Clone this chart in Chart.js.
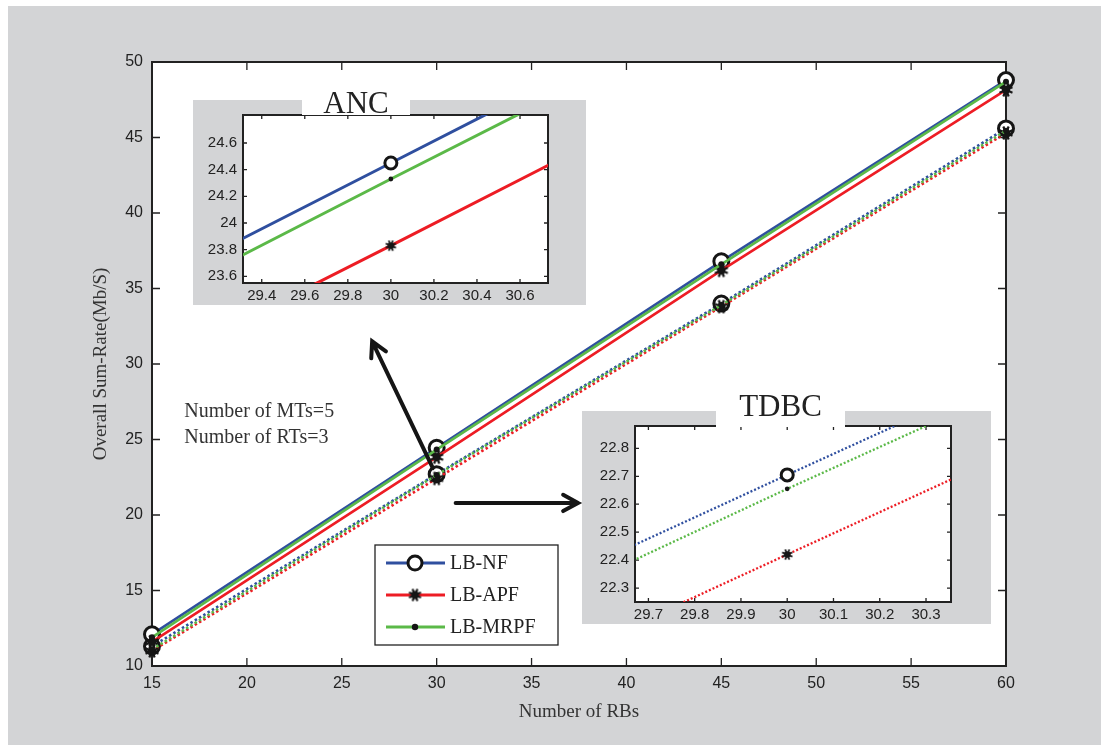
<!DOCTYPE html>
<html>
<head>
<meta charset="utf-8">
<script src="https://cdn.jsdelivr.net/npm/chart.js@4.4.1/dist/chart.umd.min.js"></script>
<style>
  html, body { margin: 0; padding: 0; background: #fff; }
  #wrap { position: relative; width: 1101px; height: 745px; overflow: hidden; }
  #main { position: absolute; left: 0; top: 0; }
  .inset { position: absolute; background: #d3d4d6; }
  .inset canvas { position: absolute; left: 0; top: 0; }
  .gap { position: absolute; background: #fff; }
  .ttl { position: absolute; font-family: "Liberation Serif", "DejaVu Serif", serif; font-size: 31px; line-height: 30px; color: #222; text-align: center; }
</style>
</head>
<body>
<div id="wrap">
  <canvas id="main" width="1101" height="745"></canvas>

  <div class="inset" style="left:193px; top:100px; width:393px; height:205px;">
    <canvas id="anc" width="393" height="205"></canvas>
  </div>
  <div class="gap" style="left:302px; top:99px; width:108px; height:16px;"></div>
  <div class="ttl" style="left:302px; top:88px; width:108px;">ANC</div>

  <div class="inset" style="left:582px; top:411px; width:409px; height:213px;">
    <canvas id="tdbc" width="409" height="213"></canvas>
  </div>
  <div class="gap" style="left:716px; top:410px; width:129px; height:17px;"></div>
  <div class="ttl" style="left:716px; top:391px; width:129px;">TDBC</div>
</div>

<script>
// --- data ---
const rbs = [15, 30, 45, 60];

// ANC (solid lines)
const ancNF   = [12.1, 24.45, 36.8, 48.8];
const ancAPF  = [11.6, 23.83, 36.2, 48.15];
const ancMRPF = [11.9, 24.33, 36.6, 48.7];

// TDBC (dotted lines)
const tdbcNF   = [11.3, 22.705, 34.0, 45.6];
const tdbcAPF  = [11.0, 22.42, 33.8, 45.3];
const tdbcMRPF = [11.1, 22.655, 33.9, 45.45];

const seriesNames = ['LB-NF', 'LB-APF', 'LB-MRPF'];

// tick labels
const xTicks = [15, 20, 25, 30, 35, 40, 45, 50, 55, 60];
const yTicks = [10, 15, 20, 25, 30, 35, 40, 45, 50];
const ancXTicks = [29.4, 29.6, 29.8, 30, 30.2, 30.4, 30.6];
const ancYTicks = [23.6, 23.8, 24, 24.2, 24.4, 24.6];
const tdbcXTicks = [29.7, 29.8, 29.9, 30, 30.1, 30.2, 30.3];
const tdbcYTicks = [22.3, 22.4, 22.5, 22.6, 22.7, 22.8];

const notes = ['Number of MTs=5', 'Number of RTs=3'];

const BLUE = '#2f4f9f', RED = '#ed1c24', GREEN = '#5bb948', INK = '#151515';

function starMarker(r) {
    const s = Math.ceil(r * 2 + 4);
    const c = document.createElement('canvas');
    c.width = s; c.height = s;
    const g = c.getContext('2d');
    g.translate(s / 2, s / 2);
    g.strokeStyle = INK;
    g.lineWidth = Math.max(1.4, r / 3.2);
    for (let i = 0; i < 8; i++) {
        const a = i * Math.PI / 4 + Math.PI / 8;
        g.beginPath();
        g.moveTo(0, 0);
        g.lineTo(Math.cos(a) * r, Math.sin(a) * r);
        g.stroke();
    }
    g.fillStyle = INK;
    g.beginPath();
    g.arc(0, 0, r * 0.6, 0, Math.PI * 2);
    g.fill();
    return c;
}

// marker kinds per series, size depends on the chart
function markerFor(kind, big) {
    if (kind === 0) return { pointStyle: 'circle', pointRadius: big ? 7.5 : 6, pointBorderWidth: 3, pointBorderColor: INK, pointBackgroundColor: '#fff' };
    if (kind === 1) return { pointStyle: starMarker(big ? 7 : 5.5), pointRadius: 6, pointBorderWidth: 0 };
    return { pointStyle: 'circle', pointRadius: big ? 3 : 2.4, pointBorderWidth: 0, pointBackgroundColor: INK, pointBorderColor: INK };
}

function makeDataset(label, values, color, kind, dotted, big) {
    const d = {
        label: label,
        data: rbs.map((x, i) => ({ x: x, y: values[i] })),
        borderColor: color,
        backgroundColor: color,
        borderWidth: dotted ? (big ? 2.6 : 2.3) : (big ? 2.6 : 3),
        borderDash: dotted ? (big ? [2.5, 2.5] : [2, 2]) : [],
        borderCapStyle: 'butt',
        tension: 0,
        fill: false,
        order: 2 - kind,
        ...markerFor(kind, big)
    };
    if (big) d.clip = false; // markers at 15 and 60 sit over the axes
    return d;
}

function ancSets(big) {
    return [
        makeDataset(seriesNames[0], ancNF, BLUE, 0, false, big),
        makeDataset(seriesNames[1], ancAPF, RED, 1, false, big),
        makeDataset(seriesNames[2], ancMRPF, GREEN, 2, false, big)
    ];
}
function tdbcSets(big) {
    return [
        makeDataset(seriesNames[0], tdbcNF, BLUE, 0, true, big),
        makeDataset(seriesNames[1], tdbcAPF, RED, 1, true, big),
        makeDataset(seriesNames[2], tdbcMRPF, GREEN, 2, true, big)
    ];
}

// white plot area + box with inward ticks (matlab look)
function boxPlugin(tickLen, lineW, frame) {
    return {
        id: 'box',
        beforeDraw(chart) {
            const ctx = chart.ctx, a = chart.chartArea;
            ctx.save();
            if (frame) {
                ctx.fillStyle = '#d3d4d6';
                ctx.fillRect(8, 6, chart.width - 8, chart.height - 6);
            }
            ctx.fillStyle = '#fff';
            ctx.fillRect(a.left, a.top, a.right - a.left, a.bottom - a.top);
            ctx.restore();
        },
        beforeDatasetsDraw(chart) {
            const ctx = chart.ctx, a = chart.chartArea;
            const xs = chart.scales.x, ys = chart.scales.y;
            ctx.save();
            ctx.strokeStyle = '#222';
            ctx.lineWidth = lineW;
            ctx.strokeRect(a.left, a.top, a.right - a.left, a.bottom - a.top);
            ctx.lineWidth = 1.3;
            ctx.beginPath();
            xs.ticks.forEach(t => {
                const px = xs.getPixelForValue(t.value);
                ctx.moveTo(px, a.bottom); ctx.lineTo(px, a.bottom - tickLen);
                ctx.moveTo(px, a.top); ctx.lineTo(px, a.top + tickLen);
            });
            ys.ticks.forEach(t => {
                const py = ys.getPixelForValue(t.value);
                ctx.moveTo(a.left, py); ctx.lineTo(a.left + tickLen, py);
                ctx.moveTo(a.right, py); ctx.lineTo(a.right - tickLen, py);
            });
            ctx.stroke();
            ctx.restore();
        }
    };
}

function fixedTicks(list) {
    return scale => { scale.ticks = list.map(v => ({ value: v })); };
}
const fmt = v => String(Math.round(v * 100) / 100);

function drawArrow(ctx, x1, y1, x2, y2) {
    const ang = Math.atan2(y2 - y1, x2 - x1);
    const h = 17, spread = 0.5;
    ctx.beginPath();
    ctx.moveTo(x1, y1); ctx.lineTo(x2, y2);
    ctx.moveTo(x2 - h * Math.cos(ang - spread), y2 - h * Math.sin(ang - spread));
    ctx.lineTo(x2, y2);
    ctx.lineTo(x2 - h * Math.cos(ang + spread), y2 - h * Math.sin(ang + spread));
    ctx.stroke();
}

// arrows and notes in data units of the main chart
const arrowToAnc = [29.8, 23.1, 26.6, 31.5];
const arrowToTdbc = [31.0, 20.8, 37.45, 20.8];
const notePos = [16.7, 26.5];

const annotate = {
    id: 'annotate',
    afterDatasetsDraw(chart) {
        const ctx = chart.ctx, xs = chart.scales.x, ys = chart.scales.y;
        const P = (x, y) => [xs.getPixelForValue(x), ys.getPixelForValue(y)];
        ctx.save();
        ctx.strokeStyle = INK;
        ctx.lineWidth = 4;
        ctx.lineCap = 'round';
        ctx.lineJoin = 'miter';
        [arrowToAnc, arrowToTdbc].forEach(a => {
            const p = P(a[0], a[1]), q = P(a[2], a[3]);
            drawArrow(ctx, p[0], p[1], q[0], q[1]);
        });

        // notes
        ctx.fillStyle = '#333';
        ctx.font = '20px "Liberation Serif", serif';
        ctx.textBaseline = 'alphabetic';
        const np = P(notePos[0], notePos[1]);
        notes.forEach((t, i) => ctx.fillText(t, np[0], np[1] + i * 26));

        // legend
        const lx = 375, ly = 545, lw = 183, lh = 100;
        ctx.fillStyle = '#fff';
        ctx.fillRect(lx, ly, lw, lh);
        ctx.strokeStyle = '#222';
        ctx.lineWidth = 1.3;
        ctx.strokeRect(lx, ly, lw, lh);
        const cols = [BLUE, RED, GREEN];
        ctx.font = '20px "Liberation Serif", serif';
        ctx.textBaseline = 'middle';
        seriesNames.forEach((name, i) => {
            const y = ly + 18 + i * 32;
            ctx.strokeStyle = cols[i];
            ctx.lineWidth = 3;
            ctx.lineCap = 'butt';
            ctx.beginPath(); ctx.moveTo(lx + 11, y); ctx.lineTo(lx + 70, y); ctx.stroke();
            const cx = lx + 40;
            if (i === 0) {
                ctx.fillStyle = '#fff'; ctx.strokeStyle = INK; ctx.lineWidth = 3;
                ctx.beginPath(); ctx.arc(cx, y, 7, 0, Math.PI * 2); ctx.fill(); ctx.stroke();
            } else if (i === 1) {
                const m = starMarker(6.5);
                ctx.drawImage(m, cx - m.width / 2, y - m.height / 2);
            } else {
                ctx.fillStyle = INK;
                ctx.beginPath(); ctx.arc(cx, y, 3.2, 0, Math.PI * 2); ctx.fill();
            }
            ctx.fillStyle = '#222';
            ctx.fillText(name, lx + 75, y + 1);
        });
        ctx.restore();
    }
};

const tickFontMain = { family: '"Liberation Sans", Arial, sans-serif', size: 16 };
const tickFontInset = { family: '"Liberation Sans", Arial, sans-serif', size: 15 };
const titleFont = { family: '"Liberation Serif", serif', size: 19 };

new Chart(document.getElementById('main'), {
    type: 'line',
    data: { datasets: [...ancSets(true), ...tdbcSets(true)] },
    options: {
        responsive: false,
        animation: false,
        events: [],
        layout: { padding: { left: 0, top: 62, right: 95, bottom: 0 } },
        plugins: { legend: { display: false }, tooltip: { enabled: false } },
        scales: {
            x: {
                type: 'linear', min: 15, max: 60,
                afterBuildTicks: fixedTicks(xTicks),
                afterFit: s => { s.height = 79; },
                grid: { display: false, drawTicks: false },
                border: { display: false },
                ticks: { font: tickFontMain, color: '#222', padding: 8, maxRotation: 0 },
                title: { display: true, text: 'Number of RBs', font: titleFont, color: '#333', padding: { top: 0, bottom: 22 } }
            },
            y: {
                type: 'linear', min: 10, max: 50,
                afterBuildTicks: fixedTicks(yTicks),
                afterFit: s => { s.width = 152; },
                grid: { display: false, drawTicks: false },
                border: { display: false },
                ticks: { font: tickFontMain, color: '#222', padding: 9 },
                title: { display: true, text: 'Overall Sum-Rate(Mb/S)', font: titleFont, color: '#333', padding: { top: 90, bottom: 0 } }
            }
        }
    },
    plugins: [boxPlugin(8, 2, true), annotate]
});

function insetChart(id, sets, xr, yr, xt, yt, pad, yw, xh) {
    return new Chart(document.getElementById(id), {
        type: 'line',
        data: { datasets: sets },
        options: {
            responsive: false,
            animation: false,
            events: [],
            layout: { padding: pad },
            plugins: { legend: { display: false }, tooltip: { enabled: false } },
            scales: {
                x: {
                    type: 'linear', min: xr[0], max: xr[1],
                    afterBuildTicks: fixedTicks(xt),
                    afterFit: s => { s.height = xh; },
                    grid: { display: false, drawTicks: false },
                    border: { display: false },
                    ticks: { font: tickFontInset, color: '#222', padding: 4, maxRotation: 0, callback: fmt }
                },
                y: {
                    type: 'linear', min: yr[0], max: yr[1],
                    afterBuildTicks: fixedTicks(yt),
                    afterFit: s => { s.width = yw; },
                    grid: { display: false, drawTicks: false },
                    border: { display: false },
                    ticks: { font: tickFontInset, color: '#222', padding: 6, callback: fmt }
                }
            }
        },
        plugins: [boxPlugin(4, 2, false)]
    });
}

insetChart('anc', ancSets(false), [29.313, 30.73], [23.55, 24.81], ancXTicks, ancYTicks,
    { left: 0, top: 14, right: 38, bottom: 0 }, 50, 22);
insetChart('tdbc', tdbcSets(false), [29.671, 30.354], [22.25, 22.88], tdbcXTicks, tdbcYTicks,
    { left: 0, top: 15, right: 40, bottom: 0 }, 53, 22);
</script>
</body>
</html>
